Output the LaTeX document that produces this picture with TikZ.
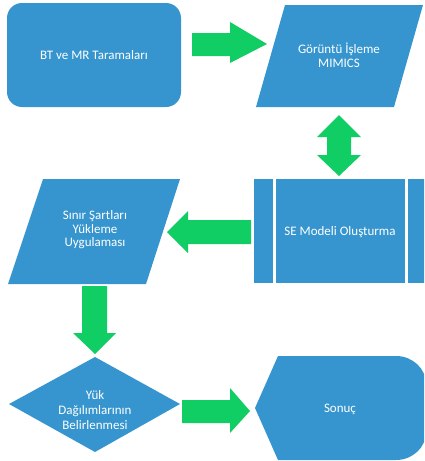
\documentclass[tikz,border=0pt]{standalone}
\usepackage{fontspec}
\setmainfont{Carlito}
\usetikzlibrary{calc}
\definecolor{flowblue}{RGB}{54,149,206}
\definecolor{flowgreen}{RGB}{16,205,100}
\begin{document}
\begin{tikzpicture}[x=1pt,y=-1pt,
  shapefill/.style={fill=flowblue,draw=none},
  garrow/.style={fill=flowgreen,draw=none},
  label/.style={text=white,font=\fontsize{13}{13.5}\selectfont,align=center,inner sep=0pt}]
\useasboundingbox (0,0) rectangle (424,461);
\clip (0,0) rectangle (424,461);
% shapes
\fill[shapefill,rounded corners=15] (7,3) rectangle (181,107);
\fill[shapefill] (285,5) -- (423,5) -- (394,107) -- (256,107) -- cycle;
\fill[shapefill] (254,179) rectangle (430,283);
\draw[white,line width=2.2] (274.5,179) -- (274.5,283);
\draw[white,line width=2.2] (406.5,179) -- (406.5,283);
\fill[shapefill] (43,179) -- (180,179) -- (146,284) -- (8,284) -- cycle;
\fill[shapefill] (95,357) -- (180,404) -- (95,452) -- (9,404) -- cycle;
\fill[shapefill] (255,408) -- (278,356) -- (396,356) arc[start angle=-90,end angle=0,x radius=30,y radius=28] -- (426,432) arc[start angle=0,end angle=90,x radius=30,y radius=28] -- (278,460) -- cycle;
% labels
\node[label] (bt) at (94,55) {BT ve MR Taramaları};
\node[label] (goruntu) at (339,55) {Görüntü İşleme\\MIMICS};
\node[label] (se) at (340,232) {SE Modeli Oluşturma};
\node[label] (sinir) at (95,230) {Sınır Şartları\\Yükleme\\Uygulaması};
\node[label,font=\fontsize{13}{15}\selectfont] (yuk) at (95,410) {Yük\\Dağılımlarının\\Belirlenmesi};
\node[label] (sonuc) at (340,409) {Sonuç};
% block arrows
\fill[garrow] (192,33) -- (230,33) -- (230,22) -- (267,44) -- (230,63) -- (230,56) -- (192,56) -- cycle;
\fill[garrow] (339,115) -- (361,137) -- (351,137) -- (351,155) -- (361,155) -- (339,176) -- (317,155) -- (327,155) -- (327,137) -- (317,137) -- cycle;
\fill[garrow] (251,220) -- (188,220) -- (188,211) -- (167,232) -- (188,253) -- (188,244) -- (251,244) -- cycle;
\fill[garrow] (82,286) -- (107,286) -- (107,333) -- (116,333) -- (95,354) -- (73,333) -- (82,333) -- cycle;
\fill[garrow] (182,400) -- (230,400) -- (230,388) -- (250,411) -- (230,433) -- (230,423) -- (182,423) -- cycle;
\end{tikzpicture}
\end{document}
